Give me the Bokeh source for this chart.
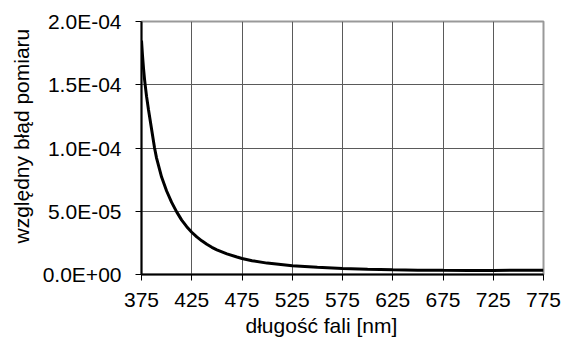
from bokeh.plotting import figure
from bokeh.models import FixedTicker, CustomJSTickFormatter, Range1d, Title
from bokeh.embed import file_html
from bokeh.resources import INLINE

wavelength = [375, 376, 377, 378, 379, 380, 382, 385, 388, 390, 395, 400,
              405, 410, 415, 420, 425, 430, 435, 440, 445, 450, 460, 470,
              475, 485, 500, 525, 550, 575, 600, 625, 650, 675, 700, 725,
              750, 775]
rel_error = [1.85e-4, 1.73e-4, 1.63e-4, 1.545e-4, 1.475e-4, 1.41e-4,
             1.30e-4, 1.15e-4, 1.0e-4, 9.2e-5, 7.7e-5, 6.6e-5, 5.7e-5,
             4.95e-5, 4.3e-5, 3.78e-5, 3.34e-5, 2.97e-5, 2.66e-5, 2.39e-5,
             2.15e-5, 1.95e-5, 1.63e-5, 1.38e-5, 1.27e-5, 1.09e-5, 9.0e-6,
             7.0e-6, 5.7e-6, 4.8e-6, 4.1e-6, 3.7e-6, 3.45e-6, 3.3e-6,
             3.25e-6, 3.25e-6, 3.3e-6, 3.4e-6]

x_ticks = [375, 425, 475, 525, 575, 625, 675, 725, 775]
y_ticks = [0.0, 5e-5, 1e-4, 1.5e-4, 2e-4]

x_label = "długość fali [nm]"
y_label = "względny błąd pomiaru"

FONT = "Liberation Sans"
FS = "21px"

p = figure(width=563, height=345, output_backend="svg", toolbar_location=None,
           x_range=Range1d(375, 775), y_range=Range1d(0, 2e-4),
           min_border_left=141, min_border_right=20, min_border_top=21,
           min_border_bottom=71)

p.line(wavelength, rel_error, line_color="black", line_width=3)

p.xaxis.ticker = FixedTicker(ticks=x_ticks)
p.yaxis.ticker = FixedTicker(ticks=y_ticks)
p.yaxis.formatter = CustomJSTickFormatter(code="""
const s = tick.toExponential(1).toUpperCase();
const parts = s.split('E');
const e = parts[1];
const sign = e[0] === '-' ? '-' : '+';
const d = e.replace(/[+-]/, '').padStart(2, '0');
return parts[0] + 'E' + sign + d;
""")

for ax in (p.xaxis[0], p.yaxis[0]):
    ax.axis_line_color = "black"
    ax.axis_line_width = 2
    ax.major_tick_line_color = "black"
    ax.major_tick_line_width = 1
    ax.major_tick_in = 0
    ax.major_tick_out = 6
    ax.minor_tick_line_color = None
    ax.major_label_text_font = FONT
    ax.major_label_text_font_size = FS
    ax.major_label_text_color = "black"

p.xaxis.major_label_standoff = 12
p.yaxis.major_label_standoff = 14

p.add_layout(Title(text=x_label, align="left", offset=104, standoff=4,
                   vertical_align="bottom",
                   text_font=FONT, text_font_size=FS, text_font_style="normal",
                   text_color="black"), "below")
p.add_layout(Title(text=y_label, align="left", offset=31, standoff=13,
                   text_font=FONT, text_font_size=FS, text_font_style="normal",
                   text_color="black"), "left")

p.xgrid.ticker = FixedTicker(ticks=x_ticks)
p.ygrid.ticker = FixedTicker(ticks=y_ticks)
p.grid.grid_line_color = "#5a5a5a"
p.grid.grid_line_width = 1

p.outline_line_color = "#999999"
p.outline_line_width = 2
p.background_fill_color = "white"
p.border_fill_color = "white"

open("out.html", "w").write(file_html(p, INLINE))
